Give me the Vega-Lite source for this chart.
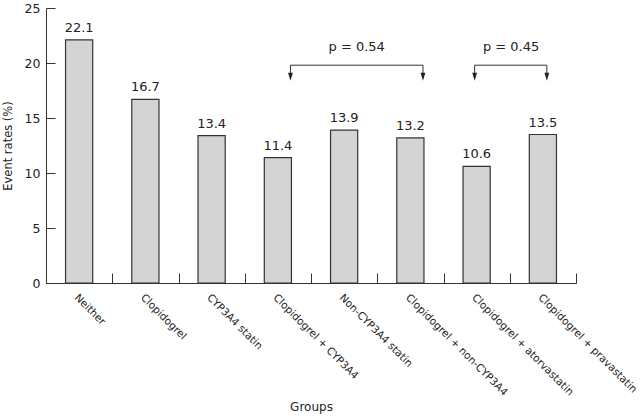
{
  "$schema": "https://vega.github.io/schema/vega-lite/v6.json",
  "width": 530,
  "height": 275,
  "autosize": {"type": "none"},
  "padding": {"left": 46, "top": 8, "right": 64, "bottom": 135},
  "config": {"view": {"stroke": null}, "font": "DejaVu Sans"},
  "datasets": {
    "bars": [
      {"Group": "Neither", "Rate": 22.1},
      {"Group": "Clopidogrel", "Rate": 16.7},
      {"Group": "CYP3A4 statin", "Rate": 13.4},
      {"Group": "Clopidogrel + CYP3A4", "Rate": 11.4},
      {"Group": "Non-CYP3A4 statin", "Rate": 13.9},
      {"Group": "Clopidogrel + non-CYP3A4", "Rate": 13.2},
      {"Group": "Clopidogrel + atorvastatin", "Rate": 10.6},
      {"Group": "Clopidogrel + pravastatin", "Rate": 13.5}
    ],
    "brackets": [
      {"bracket": "A", "left": "Clopidogrel + CYP3A4", "right": "Clopidogrel + non-CYP3A4", "mid": "Non-CYP3A4 statin", "label": "p = 0.54"},
      {"bracket": "B", "left": "Clopidogrel + atorvastatin", "right": "Clopidogrel + pravastatin", "mid": "Clopidogrel + pravastatin", "label": "p = 0.45"}
    ]
  },
  "layer": [
    {
      "data": {"name": "bars"},
      "mark": {"type": "bar", "fill": "#d4d4d4", "stroke": "#333333", "strokeWidth": 1.2, "width": {"band": 0.41}},
      "encoding": {
        "x": {
          "field": "Group", "type": "nominal",
          "scale": {"domain": ["Neither", "Clopidogrel", "CYP3A4 statin", "Clopidogrel + CYP3A4", "Non-CYP3A4 statin", "Clopidogrel + non-CYP3A4", "Clopidogrel + atorvastatin", "Clopidogrel + pravastatin"], "paddingInner": 0, "paddingOuter": 0},
          "axis": {"title": "Groups", "labelAngle": 45, "labelAlign": "left", "labelBaseline": "top", "tickBand": "extent", "tickSize": -10, "labelPadding": 19, "labelLimit": 300, "domainColor": "#333333", "tickColor": "#333333", "labelFontSize": 10.5, "labelColor": "#222222", "titleFontSize": 12, "titleFontWeight": "normal", "titleColor": "#222222", "titlePadding": 4}
        },
        "y": {
          "field": "Rate", "type": "quantitative",
          "scale": {"domain": [0, 25], "nice": false},
          "axis": {"title": "Event rates (%)", "values": [0, 5, 10, 15, 20, 25], "grid": false, "tickSize": -9, "labelPadding": 15, "domainColor": "#333333", "tickColor": "#333333", "labelFontSize": 12.5, "labelColor": "#222222", "titleFontSize": 11.5, "titleFontWeight": "normal", "titleColor": "#222222", "titlePadding": 11}
        }
      }
    },
    {
      "data": {"name": "bars"},
      "mark": {"type": "text", "baseline": "alphabetic", "dy": -8, "fontSize": 13, "color": "#222222"},
      "encoding": {
        "x": {"field": "Group", "type": "nominal"},
        "y": {"field": "Rate", "type": "quantitative"},
        "text": {"field": "Rate", "type": "quantitative", "format": ".1f"}
      }
    },
    {
      "data": {"name": "brackets"},
      "transform": [{"filter": "datum.bracket === 'A'"}],
      "layer": [
        {
          "mark": {"type": "rule", "color": "#333333", "strokeWidth": 1},
          "encoding": {
            "x": {"field": "left", "type": "nominal", "bandPosition": 0.69},
            "x2": {"field": "right", "bandPosition": 0.69},
            "y": {"datum": 19.8, "type": "quantitative"}
          }
        },
        {
          "transform": [{"fold": ["left", "right"], "as": ["side", "grp"]}],
          "mark": {"type": "rule", "color": "#333333", "strokeWidth": 1},
          "encoding": {
            "x": {"field": "grp", "type": "nominal", "bandPosition": 0.69},
            "y": {"datum": 19.8, "type": "quantitative"},
            "y2": {"datum": 19.0}
          }
        },
        {
          "transform": [{"fold": ["left", "right"], "as": ["side", "grp"]}],
          "mark": {"type": "point", "shape": "M-0.6,-1L0.6,-1L0,1Z", "size": 64, "filled": true, "color": "#222222", "opacity": 1},
          "encoding": {
            "x": {"field": "grp", "type": "nominal", "bandPosition": 0.69},
            "y": {"datum": 18.76, "type": "quantitative"}
          }
        },
        {
          "mark": {"type": "text", "baseline": "alphabetic", "fontSize": 13, "color": "#222222"},
          "encoding": {
            "x": {"field": "mid", "type": "nominal", "bandPosition": 0.69},
            "y": {"datum": 21.1, "type": "quantitative"},
            "text": {"field": "label"}
          }
        }
      ]
    },
    {
      "data": {"name": "brackets"},
      "transform": [{"filter": "datum.bracket === 'B'"}],
      "layer": [
        {
          "mark": {"type": "rule", "color": "#333333", "strokeWidth": 1},
          "encoding": {
            "x": {"field": "left", "type": "nominal", "bandPosition": 0.47},
            "x2": {"field": "right", "bandPosition": 0.56},
            "y": {"datum": 19.8, "type": "quantitative"}
          }
        },
        {
          "mark": {"type": "rule", "color": "#333333", "strokeWidth": 1},
          "encoding": {
            "x": {"field": "left", "type": "nominal", "bandPosition": 0.47},
            "y": {"datum": 19.8, "type": "quantitative"},
            "y2": {"datum": 19.0}
          }
        },
        {
          "mark": {"type": "rule", "color": "#333333", "strokeWidth": 1},
          "encoding": {
            "x": {"field": "right", "type": "nominal", "bandPosition": 0.56},
            "y": {"datum": 19.8, "type": "quantitative"},
            "y2": {"datum": 19.0}
          }
        },
        {
          "mark": {"type": "point", "shape": "M-0.6,-1L0.6,-1L0,1Z", "size": 64, "filled": true, "color": "#222222", "opacity": 1},
          "encoding": {
            "x": {"field": "left", "type": "nominal", "bandPosition": 0.47},
            "y": {"datum": 18.76, "type": "quantitative"}
          }
        },
        {
          "mark": {"type": "point", "shape": "M-0.6,-1L0.6,-1L0,1Z", "size": 64, "filled": true, "color": "#222222", "opacity": 1},
          "encoding": {
            "x": {"field": "right", "type": "nominal", "bandPosition": 0.56},
            "y": {"datum": 18.76, "type": "quantitative"}
          }
        },
        {
          "mark": {"type": "text", "baseline": "alphabetic", "fontSize": 13, "color": "#222222"},
          "encoding": {
            "x": {"field": "mid", "type": "nominal", "bandPosition": 0.02},
            "y": {"datum": 21.1, "type": "quantitative"},
            "text": {"field": "label"}
          }
        }
      ]
    }
  ]
}
